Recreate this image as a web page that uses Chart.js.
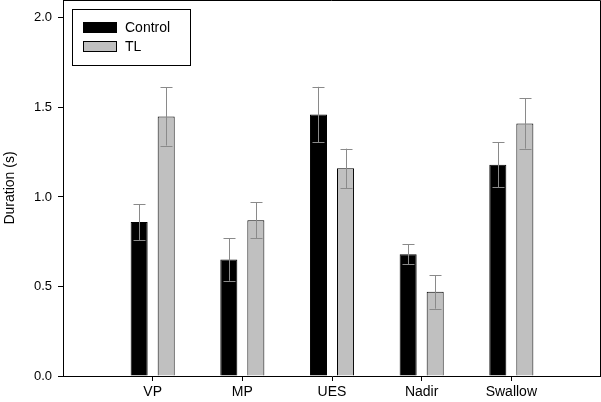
<!DOCTYPE html>
<html>
<head>
<meta charset="utf-8">
<script src="https://cdn.jsdelivr.net/npm/chart.js@4.4.0/dist/chart.umd.min.js"></script>
<style>
  body { margin: 0; background: #fff; }
  canvas { display: block; }
</style>
</head>
<body>
<canvas id="chart" width="601" height="402"></canvas>
<script>
const categories = ["VP", "MP", "UES", "Nadir", "Swallow"];
const controlMeans = [0.86, 0.65, 1.46, 0.68, 1.18];
const controlErrors = [0.10, 0.118, 0.155, 0.056, 0.126];
const tlMeans = [1.45, 0.87, 1.16, 0.47, 1.41];
const tlErrors = [0.163, 0.10, 0.11, 0.094, 0.14];
const yTicks = [0, 0.5, 1.0, 1.5, 2.0];

const FONT = "Arial, 'Liberation Sans', sans-serif";

function toPoints(values) {
    return values.map((v, i) => ({ x: i + 1, y: v }));
}

// error bars drawn on top of each bar
const errorBars = {
    id: "errorBars",
    afterDatasetsDraw(chart) {
        const ctx = chart.ctx;
        const yScale = chart.scales.y;
        ctx.save();
        ctx.strokeStyle = "#8a8a8a";
        ctx.lineWidth = 1;
        chart.data.datasets.forEach((ds, di) => {
            const meta = chart.getDatasetMeta(di);
            meta.data.forEach((bar, i) => {
                const x = Math.round(bar.x) + 0.5;
                const top = yScale.getPixelForValue(ds.data[i].y + ds.errors[i]);
                const bottom = yScale.getPixelForValue(ds.data[i].y - ds.errors[i]);
                ctx.beginPath();
                ctx.moveTo(x, top);
                ctx.lineTo(x, bottom);
                ctx.moveTo(x - 6, Math.round(top) + 0.5);
                ctx.lineTo(x + 6, Math.round(top) + 0.5);
                ctx.moveTo(x - 6, Math.round(bottom) + 0.5);
                ctx.lineTo(x + 6, Math.round(bottom) + 0.5);
                ctx.stroke();
            });
        });
        ctx.restore();
    }
};

// frame around plot + legend box in the upper left corner
const frameAndLegend = {
    id: "frameAndLegend",
    afterDraw(chart) {
        const ctx = chart.ctx;
        const a = chart.chartArea;
        ctx.save();
        ctx.strokeStyle = "#000";
        ctx.lineWidth = 1;
        ctx.beginPath();
        ctx.moveTo(a.left, a.top + 0.5);
        ctx.lineTo(a.right - 0.5, a.top + 0.5);
        ctx.lineTo(a.right - 0.5, a.bottom);
        ctx.stroke();

        ctx.strokeRect(72.5, 9.5, 118, 56);
        ctx.font = "14px " + FONT;
        ctx.textBaseline = "middle";
        ctx.fillStyle = "#000";
        chart.data.datasets.forEach((ds, i) => {
            const y = 22 + i * 19;
            ctx.fillStyle = ds.backgroundColor;
            ctx.fillRect(83, y, 34, 11);
            ctx.strokeRect(83.5, y + 0.5, 33, 10);
            ctx.fillStyle = "#000";
            ctx.fillText(ds.label, 125, y + 6);
        });
        ctx.restore();
    }
};

new Chart(document.getElementById("chart"), {
    type: "bar",
    data: {
        datasets: [
            {
                label: "Control",
                data: toPoints(controlMeans),
                errors: controlErrors,
                backgroundColor: "#000000",
                borderColor: "#000000",
                borderWidth: 1
            },
            {
                label: "TL",
                data: toPoints(tlMeans),
                errors: tlErrors,
                backgroundColor: "#c0c0c0",
                borderColor: "#000000",
                borderWidth: 1
            }
        ]
    },
    options: {
        responsive: false,
        animation: false,
        categoryPercentage: 0.603,
        barPercentage: 0.63,
        layout: { padding: 0 },
        plugins: {
            legend: { display: false },
            tooltip: { enabled: false }
        },
        scales: {
            x: {
                type: "linear",
                min: 0,
                max: 6,
                offset: false,
                afterBuildTicks: (scale) => {
                    scale.ticks = categories.map((c, i) => ({ value: i + 1 }));
                },
                afterFit: (scale) => {
                    scale.height = 26;
                    scale.paddingLeft = 0;
                    scale.paddingRight = 0;
                },
                grid: { display: true, offset: false, drawOnChartArea: false, tickLength: 5, tickColor: "#000" },
                border: { display: true, color: "#000", width: 1 },
                ticks: {
                    color: "#000",
                    padding: 3,
                    font: { family: FONT, size: 14 },
                    callback: (v) => categories[v - 1] || ""
                }
            },
            y: {
                min: 0,
                max: 2.1,
                afterBuildTicks: (scale) => {
                    scale.ticks = yTicks.map((v) => ({ value: v }));
                },
                afterFit: (scale) => {
                    scale.width = 63;
                    scale.paddingTop = 0;
                    scale.paddingBottom = 0;
                },
                grid: { display: true, drawOnChartArea: false, tickLength: 5, tickColor: "#000" },
                border: { display: true, color: "#000", width: 1 },
                ticks: {
                    color: "#000",
                    padding: 6,
                    font: { family: FONT, size: 13 },
                    callback: (v) => v.toFixed(1)
                },
                title: {
                    display: true,
                    text: "Duration (s)",
                    color: "#000",
                    padding: { top: 2, bottom: 0 },
                    font: { family: FONT, size: 14 }
                }
            }
        }
    },
    plugins: [errorBars, frameAndLegend]
});
</script>
</body>
</html>
